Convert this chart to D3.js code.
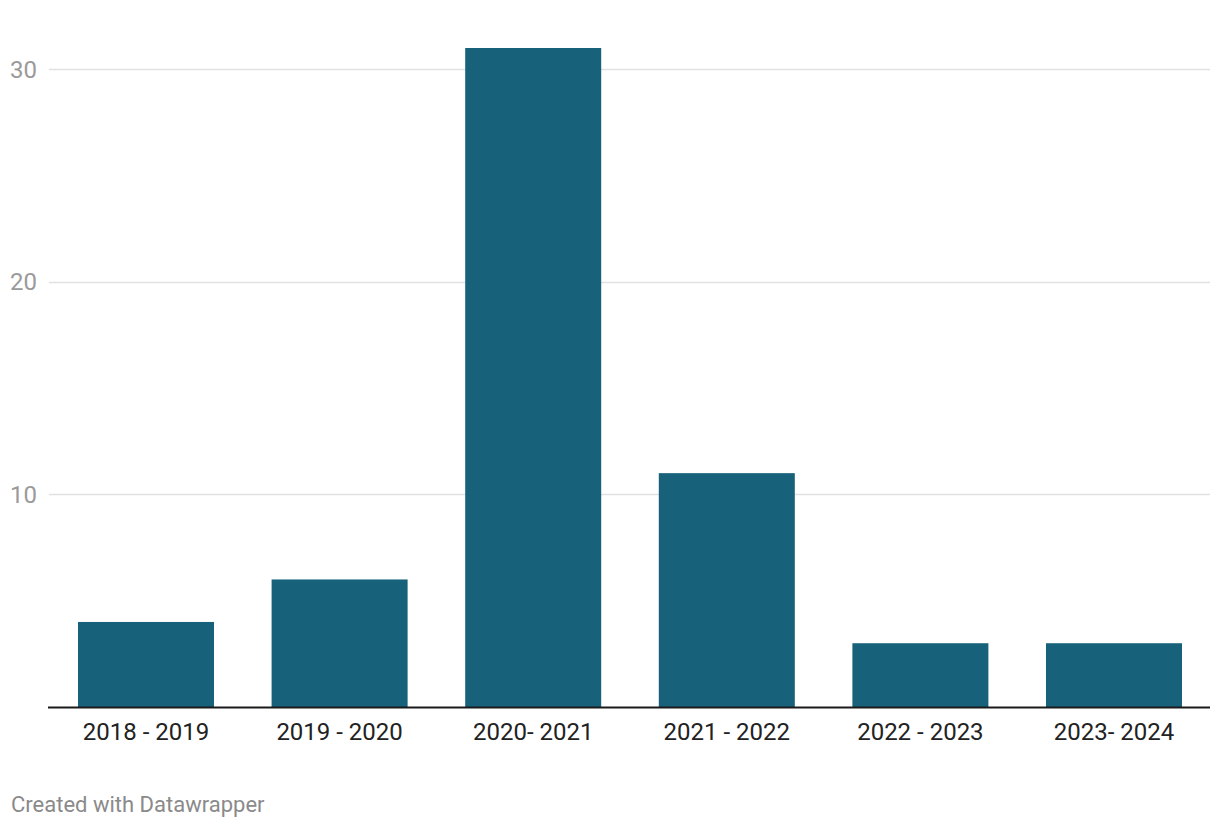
<!DOCTYPE html>
<html>
<head>
<meta charset="utf-8">
<script src="https://cdn.jsdelivr.net/npm/d3@7"></script>
<style>
  html, body { margin: 0; padding: 0; background: #fff; }
  svg { display: block; font-family: Roboto, "Noto Sans", sans-serif; }
</style>
</head>
<body>
<svg id="chart" width="1220" height="828"></svg>
<script>
const categories = ["2018 - 2019", "2019 - 2020", "2020- 2021", "2021 - 2022", "2022 - 2023", "2023- 2024"];
const values = [4, 6, 31, 11, 3, 3];
const yTicks = [10, 20, 30];

const svg = d3.select("#chart");
const plotLeft = 48, plotRight = 1210, plotTop = 48, plotBottom = 707;

const x = d3.scaleBand().domain(categories).range([plotLeft, 1212]).paddingInner(0.2975).paddingOuter(0.155);
const y = d3.scaleLinear().domain([0, 31]).range([plotBottom, plotTop]);

// grid
const grid = svg.append("g");
grid.selectAll("line").data(yTicks).join("line")
  .attr("x1", plotLeft + 1).attr("x2", plotRight)
  .attr("y1", d => Math.round(y(d)) + 0.5).attr("y2", d => Math.round(y(d)) + 0.5)
  .attr("stroke", "#e1e1e1").attr("stroke-width", 1.5);
grid.selectAll("text").data(yTicks).join("text")
  .attr("x", 10).attr("y", d => y(d))
  .attr("dy", "0.35em")
  .attr("fill", "#9a9a9a").attr("font-size", 24)
  .text(d => d);

// bars
svg.append("g").selectAll("rect").data(values).join("rect")
  .attr("x", (d, i) => x(categories[i]))
  .attr("width", x.bandwidth())
  .attr("y", d => y(d))
  .attr("height", d => plotBottom - y(d))
  .attr("fill", "#17617a");

// baseline
svg.append("line")
  .attr("x1", plotLeft).attr("x2", plotRight)
  .attr("y1", plotBottom + 0.5).attr("y2", plotBottom + 0.5)
  .attr("stroke", "#1a1a1a").attr("stroke-width", 2);

// x labels
svg.append("g").selectAll("text").data(categories).join("text")
  .attr("x", d => x(d) + x.bandwidth() / 2)
  .attr("y", 740)
  .attr("text-anchor", "middle")
  .attr("fill", "#222").attr("font-size", 24)
  .text(d => d);

// footer
svg.append("text")
  .attr("x", 11).attr("y", 812)
  .attr("fill", "#8a8a8a").attr("font-size", 22)
  .text("Created with Datawrapper");
</script>
</body>
</html>
